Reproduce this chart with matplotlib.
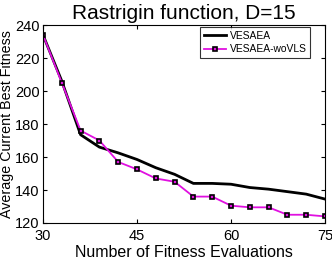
import numpy as np
import matplotlib
matplotlib.use("Agg")
import matplotlib.pyplot as plt

plt.rcParams['font.family'] = ['Liberation Sans', 'DejaVu Sans']

evals = [30, 33, 36, 39, 42, 45, 48, 51, 54, 57, 60, 63, 66, 69, 72, 75]
vesaea = [234, 206, 173.5, 166, 162.5, 158.5, 153.5, 149.5, 144, 144, 143.5, 141.5, 140.5, 139, 137.5, 134.5]
vesaea_wovls = [234, 205, 176, 170, 157, 152.5, 147, 145, 136, 136, 130.5, 129.5, 129.5, 125, 125, 124]

fig = plt.figure(figsize=(3.32, 2.6), dpi=100)
ax = fig.add_axes([43/332, 37/260, 282/332, 198/260])

ax.plot(evals, vesaea, color='black', lw=2, label='VESAEA')
ax.plot(evals, vesaea_wovls, color='#e010e0', lw=1.3, marker='s', ms=3.5,
        mfc='#e010e0', mec='black', mew=1.2, label='VESAEA-woVLS')

ax.set_xlim(30, 75)
ax.set_ylim(120, 240)
ax.set_xticks([30, 45, 60, 75])
ax.set_yticks([120, 140, 160, 180, 200, 220, 240])
ax.tick_params(direction='in', top=True, right=True, labelsize=10.5, length=3)
ax.tick_params(axis='x', pad=4)
ax.tick_params(axis='y', pad=2.5)
for s in ax.spines.values():
    s.set_linewidth(0.8)
ax.set_title('Rastrigin function, D=15', fontsize=15, pad=4)
ax.set_xlabel('Number of Fitness Evaluations', fontsize=11.5, labelpad=2)
ax.set_ylabel('Average Current Best Fitness', fontsize=10.3, labelpad=0.5)

leg = ax.legend(loc='upper right', bbox_to_anchor=(0.947, 0.99), fontsize=7.4,
                frameon=True, fancybox=False, edgecolor='black', handlelength=2.2,
                borderpad=0.35, labelspacing=0.35, handletextpad=0.3, borderaxespad=0)
leg.get_frame().set_linewidth(0.8)

fig.savefig('out.png', dpi=100)
